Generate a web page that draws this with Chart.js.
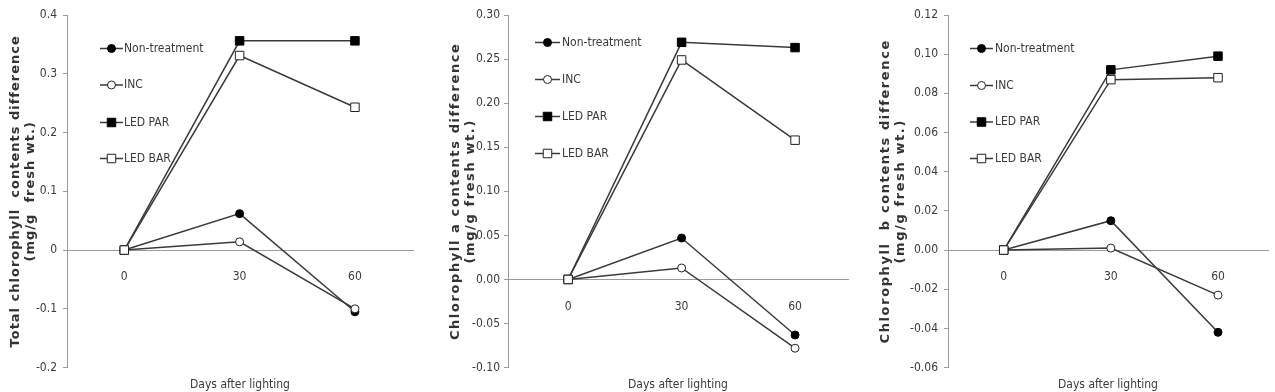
<!DOCTYPE html>
<html>
<head>
<meta charset="utf-8">
<script src="https://cdn.jsdelivr.net/npm/chart.js@4.4.1/dist/chart.umd.min.js"></script>
<style>
  html, body { margin: 0; padding: 0; background: #ffffff; width: 1275px; height: 392px; overflow: hidden; }
  .panel { position: absolute; top: 0; height: 392px; }
  .panel canvas { display: block; }
</style>
</head>
<body>
<div class="panel" id="p1" style="left:0px;width:420px;"><canvas id="c1"></canvas></div>
<div class="panel" id="p2" style="left:440px;width:415px;"><canvas id="c2"></canvas></div>
<div class="panel" id="p3" style="left:870px;width:405px;"><canvas id="c3"></canvas></div>
<script>
// ---------------- DATA ----------------
const days = [0, 30, 60];
const xTickLabels = ['0', '30', '60'];
const seriesNames = ['Non-treatment', 'INC', 'LED PAR', 'LED BAR'];
const xAxisTitle = 'Days after lighting';

// Total chlorophyll
const totalNonTreatment = [0, 0.062, -0.105];
const totalINC          = [0, 0.014, -0.100];
const totalLEDPAR       = [0, 0.356, 0.356];
const totalLEDBAR       = [0, 0.331, 0.243];
const totalYTicks       = [-0.2, -0.1, 0, 0.1, 0.2, 0.3, 0.4];
const totalYTickLabels  = ['-0.2', '-0.1', '0', '0.1', '0.2', '0.3', '0.4'];
const totalYTitle       = ['Total chlorophyll  contents difference', '(mg/g  fresh wt.)'];

// Chlorophyll a
const aNonTreatment = [0, 0.047, -0.063];
const aINC          = [0, 0.013, -0.078];
const aLEDPAR       = [0, 0.269, 0.263];
const aLEDBAR       = [0, 0.249, 0.158];
const aYTicks       = [-0.10, -0.05, 0, 0.05, 0.10, 0.15, 0.20, 0.25, 0.30];
const aYTickLabels  = ['-0.10', '-0.05', '0.00', '0.05', '0.10', '0.15', '0.20', '0.25', '0.30'];
const aYTitle       = ['Chlorophyll a contents difference', '(mg/g fresh wt.)'];

// Chlorophyll b
const bNonTreatment = [0, 0.015, -0.042];
const bINC          = [0, 0.001, -0.023];
const bLEDPAR       = [0, 0.092, 0.099];
const bLEDBAR       = [0, 0.087, 0.088];
const bYTicks       = [-0.06, -0.04, -0.02, 0, 0.02, 0.04, 0.06, 0.08, 0.10, 0.12];
const bYTickLabels  = ['-0.06', '-0.04', '-0.02', '0.00', '0.02', '0.04', '0.06', '0.08', '0.10', '0.12'];
const bYTitle       = ['Chlorophyll  b contents difference', '(mg/g fresh wt.)'];

// ---------------- STYLE ----------------
const NARROW = "'DejaVu Sans Condensed', 'Liberation Sans Narrow', 'Arial Narrow', sans-serif";
const BOLDWIDE = "'DejaVu Sans', Verdana, sans-serif";
const TEXT = '#3a3a3a';
const AXIS = '#9a9a9a';
const LINE = '#3a3a3a';

const markerStyles = [
  { pointStyle: 'circle', radius: 4,   fill: '#000000', border: '#000000', order: 3 },
  { pointStyle: 'circle', radius: 4,   fill: '#ffffff', border: '#222222', order: 2 },
  { pointStyle: 'rect',   radius: 6,   fill: '#000000', border: '#000000', order: 1 },
  { pointStyle: 'rect',   radius: 6,   fill: '#ffffff', border: '#222222', order: 0 }
];

function makeDatasets(seriesList) {
  return seriesList.map((vals, i) => {
    const m = markerStyles[i];
    return {
      label: seriesNames[i],
      data: days.map((d, j) => ({ x: d, y: vals[j] })),
      borderColor: LINE,
      borderWidth: 1.5,
      pointStyle: m.pointStyle,
      pointRadius: m.radius,
      pointBackgroundColor: m.fill,
      pointBorderColor: m.border,
      pointBorderWidth: 1,
      tension: 0,
      order: m.order
    };
  });
}

// legend drawn inside the plot, Excel-style (line through marker)
const insideLegend = {
  id: 'insideLegend',
  afterDraw(chart, args, opts) {
    const ctx = chart.ctx;
    ctx.save();
    chart.data.datasets.forEach((ds, i) => {
      const y = opts.ys[i];
      ctx.strokeStyle = LINE;
      ctx.lineWidth = 1.5;
      ctx.beginPath();
      ctx.moveTo(opts.x1, y);
      ctx.lineTo(opts.x2, y);
      ctx.stroke();
      const cx = (opts.x1 + opts.x2) / 2;
      const m = markerStyles[i];
      ctx.fillStyle = m.fill;
      ctx.strokeStyle = m.border;
      ctx.lineWidth = 1;
      ctx.beginPath();
      if (m.pointStyle === 'circle') {
        ctx.arc(cx, y, m.radius, 0, Math.PI * 2);
      } else {
        const s = m.radius * Math.SQRT1_2;
        ctx.rect(cx - s, y - s, 2 * s, 2 * s);
      }
      ctx.fill();
      ctx.stroke();
      ctx.fillStyle = TEXT;
      ctx.font = '12px ' + NARROW;
      ctx.textAlign = 'left';
      ctx.textBaseline = 'middle';
      ctx.fillText(ds.label, opts.textX, y);
    });
    ctx.restore();
  }
};

// letter-spaced y-axis title (as in the original figure)
const spacedTitle = {
  id: 'spacedTitle',
  beforeDraw(chart, args, opts) {
    const s = chart.scales.y;
    if (s && !s._spacedPatched) {
      const orig = s.drawTitle;
      s.drawTitle = function () {
        const ctx = this.ctx;
        ctx.save();
        ctx.letterSpacing = opts.spacing;
        orig.call(this);
        ctx.restore();
      };
      s._spacedPatched = true;
    }
  }
};

function makeChart(canvasId, seriesList, yTicks, yTickLabels, yTitle, layout) {
  return new Chart(document.getElementById(canvasId), {
    type: 'line',
    data: { datasets: makeDatasets(seriesList) },
    plugins: [insideLegend, spacedTitle],
    options: {
      responsive: true,
      maintainAspectRatio: false,
      animation: false,
      events: [],
      layout: { padding: { top: 15, right: layout.padRight, bottom: 0, left: 0 } },
      plugins: {
        legend: { display: false },
        tooltip: { enabled: false },
        title: {
          display: true,
          text: xAxisTitle,
          position: 'bottom',
          fullSize: false,
          color: TEXT,
          font: { family: NARROW, size: 12, weight: 'normal' },
          padding: { top: 10, bottom: 0 }
        },
        insideLegend: layout.legend,
        spacedTitle: { spacing: layout.titleSpacing }
      },
      scales: {
        x: {
          type: 'linear',
          position: { y: 0 },
          min: layout.xMin,
          max: layout.xMax,
          afterBuildTicks: (scale) => { scale.ticks = days.map(v => ({ value: v })); },
          ticks: {
            callback: (v, idx) => xTickLabels[idx],
            color: TEXT,
            font: { family: NARROW, size: 12 },
            padding: 20,
            maxRotation: 0,
            autoSkip: false
          },
          grid: { display: false, drawTicks: false },
          border: { display: true, color: AXIS, width: 1 }
        },
        y: {
          type: 'linear',
          position: 'left',
          min: yTicks[0],
          max: yTicks[yTicks.length - 1],
          afterBuildTicks: (scale) => { scale.ticks = yTicks.map(v => ({ value: v })); },
          afterFit: (scale) => { scale.width = layout.axisWidth; },
          ticks: {
            callback: (v, idx) => yTickLabels[idx],
            color: TEXT,
            font: { family: NARROW, size: 12 },
            padding: layout.tickPad,
            autoSkip: false
          },
          grid: { display: true, drawOnChartArea: false, drawTicks: true, tickLength: 4, color: AXIS, lineWidth: 1 },
          border: { display: true, color: AXIS, width: 1 },
          title: {
            display: true,
            text: yTitle,
            color: '#333333',
            font: { family: BOLDWIDE, size: 13, weight: 'bold', lineHeight: 1.15 },
            padding: { top: 8, bottom: 0 }
          }
        }
      }
    }
  });
}

makeChart('c1', [totalNonTreatment, totalINC, totalLEDPAR, totalLEDBAR], totalYTicks, totalYTickLabels, totalYTitle, {
  axisWidth: 67, padRight: 2, tickPad: 6, xMin: -14.9, xMax: 75.1, titleSpacing: '1px',
  legend: { x1: 100, x2: 123, textX: 124, ys: [48.5, 85, 122.5, 158.5] }
});
makeChart('c2', [aNonTreatment, aINC, aLEDPAR, aLEDBAR], aYTicks, aYTickLabels, aYTitle, {
  axisWidth: 68, padRight: 1, tickPad: 4, xMin: -15.9, xMax: 74.0, titleSpacing: '1.6px',
  legend: { x1: 95, x2: 120, textX: 122, ys: [42.5, 79.5, 116.5, 153.5] }
});
makeChart('c3', [bNonTreatment, bINC, bLEDPAR, bLEDBAR], bYTicks, bYTickLabels, bYTitle, {
  axisWidth: 78, padRight: 0, tickPad: 6, xMin: -15.6, xMax: 74.0, titleSpacing: '1.6px',
  legend: { x1: 100, x2: 123, textX: 125, ys: [48.5, 85.5, 122, 158.5] }
});
</script>
</body>
</html>
